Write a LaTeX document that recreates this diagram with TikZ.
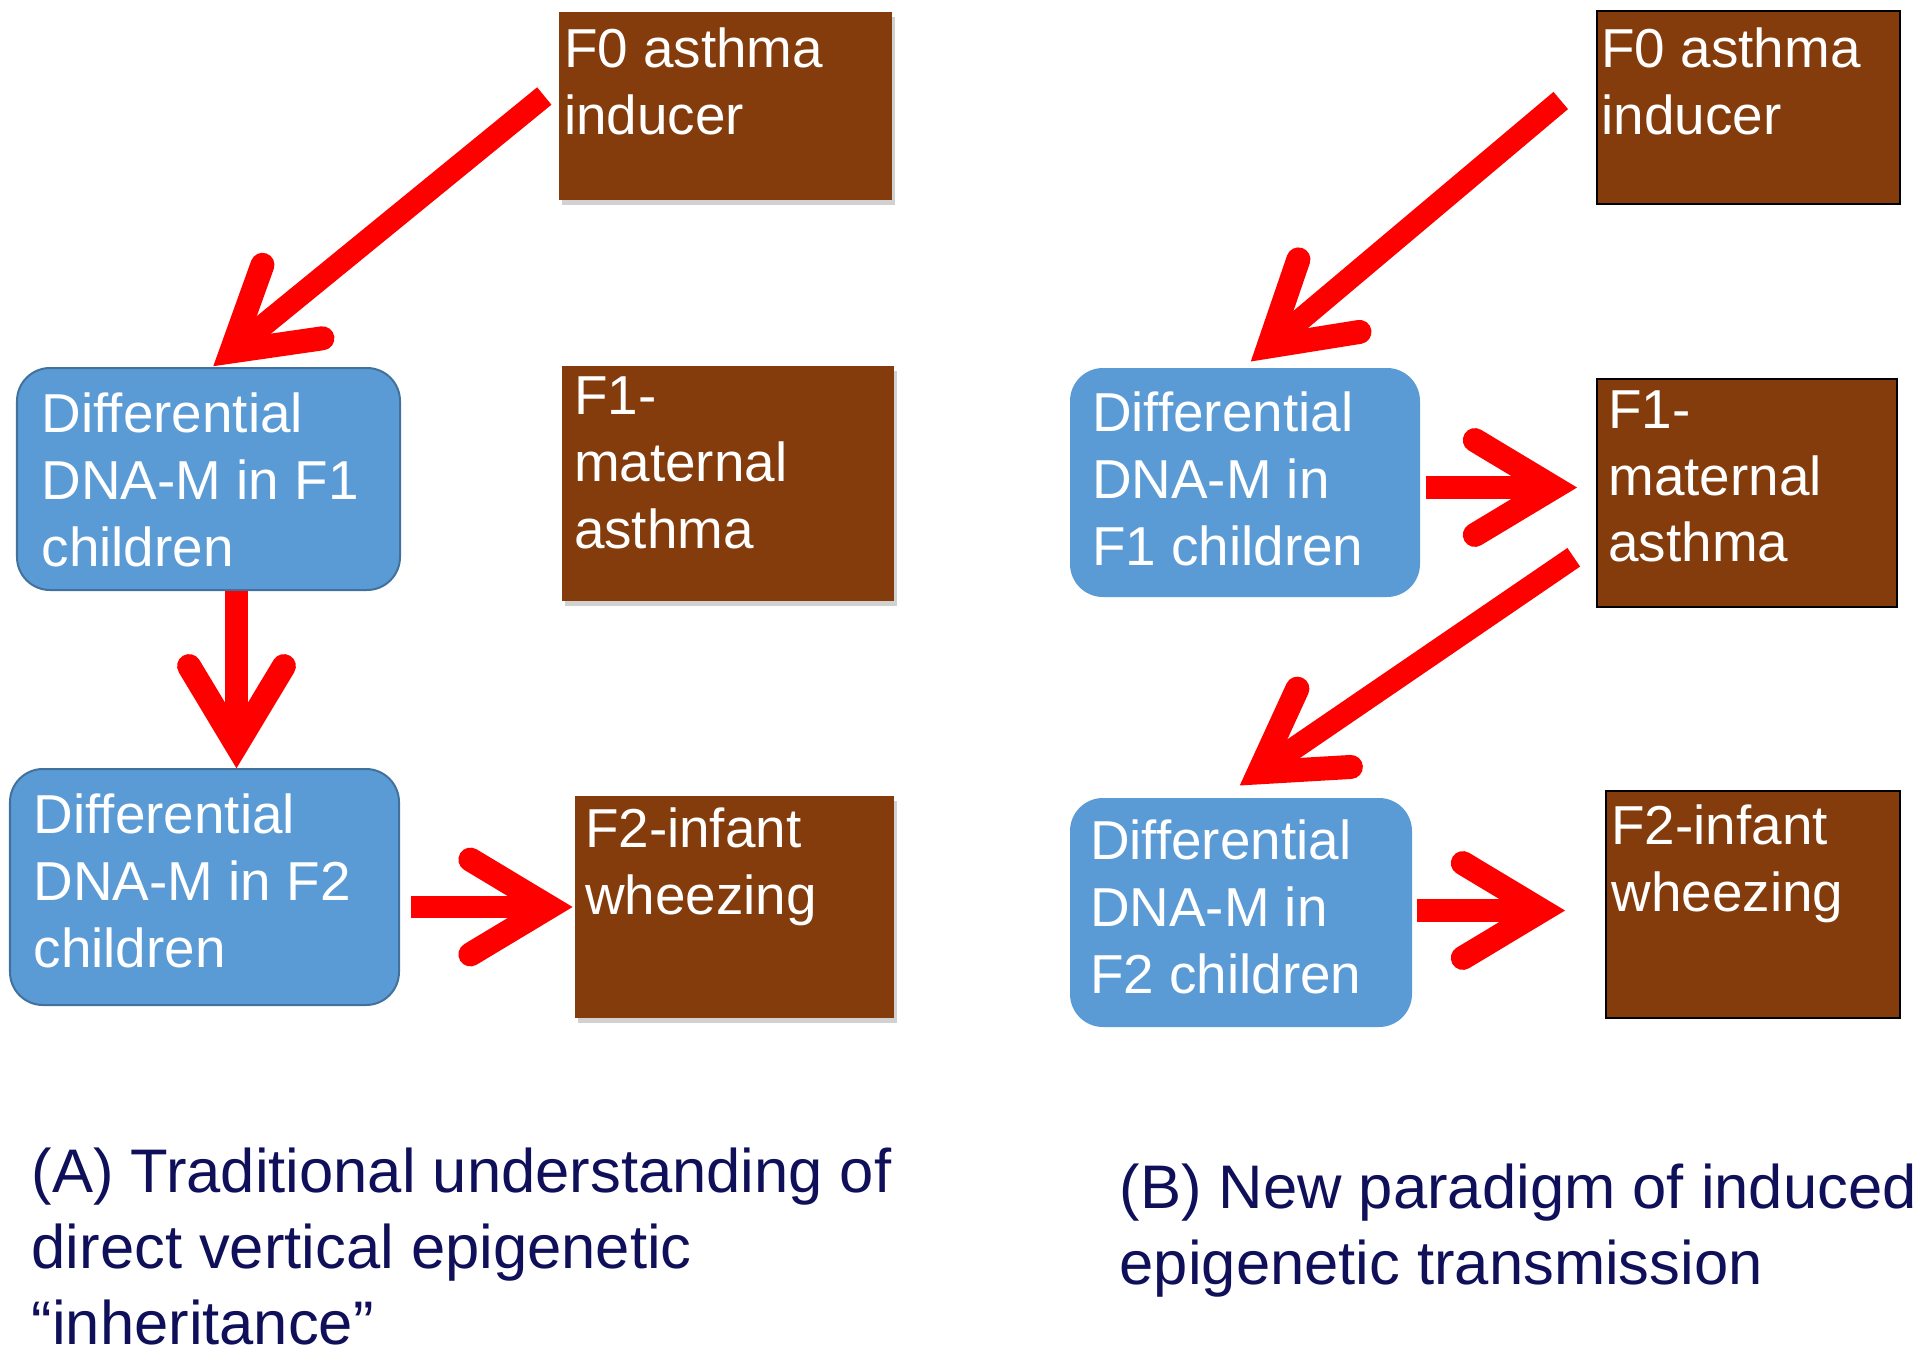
\documentclass[tikz,border=0pt]{standalone}
\usepackage{fontspec}
\setmainfont{Liberation Sans}
\usetikzlibrary{calc,fit,shadows}
\definecolor{brownfill}{HTML}{843C0C}
\definecolor{bluefill}{HTML}{5B9BD5}
\definecolor{blueline}{HTML}{41719C}
\definecolor{captionblue}{HTML}{10105A}
\definecolor{arrred}{HTML}{FF0000}
\tikzset{
  brownA/.style={fill=brownfill, draw=none, inner sep=0pt,
    drop shadow={shadow xshift=0.03cm, shadow yshift=-0.05cm, fill=black, opacity=0.18}},
  brownB/.style={fill=brownfill, draw=black, line width=0.025cm, inner sep=0pt},
  blueA/.style={fill=bluefill, draw=blueline, line width=0.02cm, rounded corners=0.33cm, inner sep=0pt},
  blueB/.style={fill=bluefill, draw=none, rounded corners=0.33cm, inner sep=0pt},
  boxtext/.style={anchor=north west, inner sep=0pt, text=white, align=left,
    font=\fontsize{15.6}{19}\selectfont},
  captext/.style={anchor=north west, inner sep=0pt, text=captionblue, align=left,
    font=\fontsize{17.5}{21.6}\selectfont},
  arrshaft/.style={draw=arrred, line width=0.225cm, line cap=butt},
  arrbarb/.style={draw=arrred, line width=0.24cm, line cap=round, line join=miter},
}
\newcommand{\drawredarrow}[2]{%
  \coordinate (ra-g) at ($(#2)!0.23cm!(#1)$);
  \draw[arrshaft] (#1) -- (ra-g);
  \draw[arrbarb] ($(ra-g)!0.92cm!31:(#1)$) -- (ra-g) -- ($(ra-g)!0.92cm!-31:(#1)$);
}
\begin{document}
\begin{tikzpicture}[x=0.01cm, y=-0.01cm]
\useasboundingbox[fill=white] (0,0) rectangle (1920,1363);

% ---------- panel A ----------
\node[brownA, fit={(559,12) (892,200)}] (F0a) {};
\node[brownA, fit={(562,366) (894,601)}] (F1a) {};
\node[brownA, fit={(575,796) (894,1018)}] (F2a) {};
\node[blueA, fit={(17,368) (400,590)}] (B1a) {};
\node[blueA, fit={(10,769) (399,1005)}] (B2a) {};

\node[boxtext] (tF0a) at ($(F0a.north west)+(5,16)$) {F0 asthma\\inducer};
\node[boxtext] (tF1a) at ($(F1a.north west)+(12,11)$) {F1-\\maternal\\asthma};
\node[boxtext] (tF2a) at ($(F2a.north west)+(10,12)$) {F2-infant\\wheezing};
\node[boxtext] (tB1a) at ($(B1a.north west)+(25,25)$) {Differential\\DNA-M in F1\\children};
\node[boxtext] (tB2a) at ($(B2a.north west)+(24,25)$) {Differential\\DNA-M in F2\\children};

% ---------- panel B ----------
\node[brownB, fit={(1597,11) (1900,204)}] (F0b) {};
\node[brownB, fit={(1597,379) (1897,607)}] (F1b) {};
\node[brownB, fit={(1606,791) (1900,1018)}] (F2b) {};
\node[blueB, fit={(1070,368) (1420,597)}] (B1b) {};
\node[blueB, fit={(1070,798) (1412,1027)}] (B2b) {};

\node[boxtext] (tF0b) at ($(F0b.north west)+(5,17)$) {F0 asthma\\inducer};
\node[boxtext] (tF1b) at ($(F1b.north west)+(12,12)$) {F1-\\maternal\\asthma};
\node[boxtext] (tF2b) at ($(F2b.north west)+(6,14)$) {F2-infant\\wheezing};
\node[boxtext] (tB1b) at ($(B1b.north west)+(22,24)$) {Differential\\DNA-M in\\F1 children};
\node[boxtext] (tB2b) at ($(B2b.north west)+(20,22)$) {Differential\\DNA-M in\\F2 children};

% ---------- arrows panel A ----------
\coordinate (a1s) at ($(F0a.west)+(-14,-10)$);
\coordinate (a1t) at ($(B1a.north)+(5,-1)$);
\drawredarrow{a1s}{a1t}
\coordinate (a2s) at ($(B1a.south)+(28,0)$);
\coordinate (a2t) at (a2s |- B2a.north);
\drawredarrow{a2s}{a2t}
\coordinate (a3x) at ($(B2a.east)+(11,0)$);
\coordinate (a3s) at (a3x |- F2a.west);
\coordinate (a3t) at ($(F2a.west)+(-2,0)$);
\drawredarrow{a3s}{a3t}

% ---------- arrows panel B ----------
\coordinate (b1s) at ($(F0b.west)+(-35,-7)$);
\coordinate (b1t) at ($(B1b.north)+(6,-6)$);
\drawredarrow{b1s}{b1t}
\coordinate (b2s) at ($(B1b.east)+(5,5)$);
\coordinate (b2x) at ($(F1b.west)+(-19,0)$);
\coordinate (b2t) at (b2x |- b2s);
\drawredarrow{b2s}{b2t}
\coordinate (b3s) at ($(F1b.south west)+(-22,-51)$);
\coordinate (b3t) at ($(B2b.north)+(-1,-12)$);
\drawredarrow{b3s}{b3t}
\coordinate (b4s) at ($(B2b.east)+(4,-2)$);
\coordinate (b4x) at ($(F2b.west)+(-40,0)$);
\coordinate (b4t) at (b4x |- b4s);
\drawredarrow{b4s}{b4t}

% ---------- captions ----------
\node[captext] (capA) at (31,1147) {(A) Traditional understanding of\\direct vertical epigenetic\\“inheritance”};
\node[captext] (capB) at (1119,1163) {(B) New paradigm of induced\\epigenetic transmission};
\end{tikzpicture}
\end{document}
